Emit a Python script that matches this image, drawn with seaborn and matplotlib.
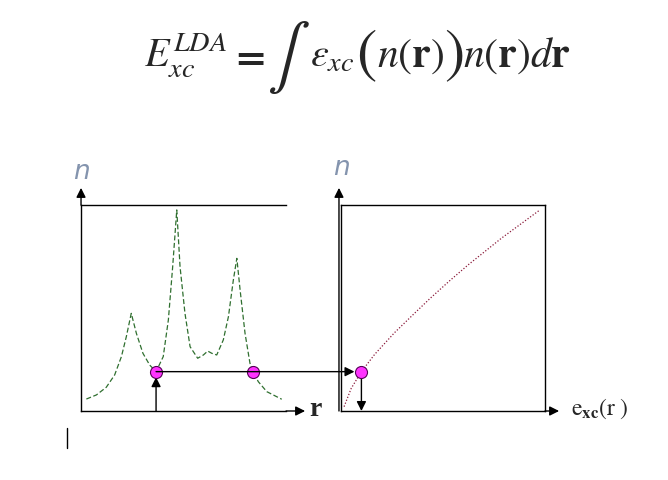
import matplotlib.pyplot as plt
import seaborn as sns
from matplotlib.lines import Line2D
from matplotlib.patches import ConnectionPatch

# density n(r) along r (left panel)
r_vals = [0.26, 0.75, 1.23, 1.64, 1.97, 2.21, 2.45, 2.70, 3.02, 3.35, 3.66, 4.01, 4.26,
          4.47, 4.67, 4.83, 5.07, 5.32, 5.69, 5.97, 6.18, 6.38, 6.62, 6.94, 7.19, 7.43,
          7.60, 7.76, 8.00, 8.24, 8.38, 8.65, 9.06, 9.79]
n_left = [0.58, 0.78, 1.15, 1.75, 2.64, 3.61, 4.74, 3.77, 2.80, 2.23, 1.91, 2.64, 4.42,
          7.00, 9.76, 7.00, 4.74, 3.12, 2.56, 2.72, 2.91, 2.80, 2.72, 3.45, 4.58, 6.36,
          7.41, 5.87, 3.77, 2.32, 1.91, 1.42, 0.94, 0.57]

# n against e_xc (right panel)
exc_vals = [0.15, 0.50, 1.00, 1.65, 2.62, 3.61, 4.35, 5.30, 6.24, 7.88, 9.75]
n_right = [0.21, 1.10, 1.91, 2.75, 3.80, 4.75, 5.45, 6.30, 7.10, 8.40, 9.76]

# picked density level and where it is met
n_level = 1.91
r_points = [3.66, 8.38]
exc_point = 1.00

sns.set_style('white')
plt.rcParams['mathtext.fontset'] = 'stix'

fig = plt.figure(figsize=(6.68, 4.8), dpi=100)
ax1 = fig.add_axes([0.1213, 0.14375, 0.3069, 0.4292])
ax2 = fig.add_axes([0.5105, 0.14375, 0.3054, 0.4292])

sns.lineplot(x=r_vals, y=n_left, ax=ax1, color='#2f6f2f', lw=0.9,
             linestyle=(0, (4, 2)), sort=False)
sns.lineplot(x=exc_vals, y=n_right, ax=ax2, color='#8b1a3a', lw=0.9,
             linestyle=(0, (1, 1.5)), sort=False)

arrow = dict(arrowstyle='-|>', color='black', lw=1.0, mutation_scale=14,
             shrinkA=0, shrinkB=0)

for ax in (ax1, ax2):
   ax.set_xlim(0, 10)
   ax.set_ylim(0, 10)
   ax.set_xticks([])
   ax.set_yticks([])
   for s in ax.spines.values():
      s.set_color('black')
      s.set_linewidth(1.0)

ax1.spines['right'].set_visible(False)
ax1.annotate('', xy=(0, 1.083), xytext=(0, 1), xycoords='axes fraction', arrowprops=arrow)
ax1.annotate('', xy=(1.093, 0), xytext=(1, 0), xycoords='axes fraction', arrowprops=arrow)
ax2.annotate('', xy=(-0.01, 1.083), xytext=(-0.01, 0), xycoords='axes fraction', arrowprops=arrow)
ax2.annotate('', xy=(1.069, 0), xytext=(1, 0), xycoords='axes fraction', arrowprops=arrow)

# vertical arrows to / from the points
ax1.annotate('', xy=(r_points[0], n_level), xytext=(r_points[0], 0),
             arrowprops=dict(arrow, shrinkB=4))
ax2.annotate('', xy=(exc_point, 0), xytext=(exc_point, n_level),
             arrowprops=dict(arrow, shrinkA=4))

# horizontal connector between panels
con = ConnectionPatch(xyA=(r_points[0], n_level), coordsA=ax1.transData,
                      xyB=(exc_point, n_level), coordsB=ax2.transData,
                      arrowstyle='-|>', color='black', lw=1.0, mutation_scale=14,
                      shrinkA=0, shrinkB=5)
fig.add_artist(con)

pt = dict(s=75, color='#ff33ff', edgecolor='#550055', linewidth=0.8, zorder=5, clip_on=False)
sns.scatterplot(x=r_points, y=[n_level] * len(r_points), ax=ax1, **pt)
sns.scatterplot(x=[exc_point], y=[n_level], ax=ax2, **pt)

# labels
ax1.text(0, 1.16, 'n', transform=ax1.transAxes, ha='center', va='center',
         fontsize=19, style='italic', color='#8494ae')
ax2.text(0, 1.18, 'n', transform=ax2.transAxes, ha='center', va='center',
         fontsize=19, style='italic', color='#8494ae')
ax1.text(1.145, 0.005, 'r', transform=ax1.transAxes, ha='center', va='center',
         fontsize=20, family='Liberation Serif', fontweight='bold')
ax2.text(1.125, 0.01, r'$\mathrm{e}_{\mathbf{xc}}(\mathrm{r}\;)$', transform=ax2.transAxes,
         ha='left', va='center', fontsize=17)

# formula, laid out piece by piece: (text, size, gap before in px, y px, va)
pieces = [
   (r'$E_{xc}^{LDA}$', 29, 0, 67, 'baseline'),
   (r'$\mathbf{=}$', 29, 3, 67, 'baseline'),
   (r'$\int$', 46, 2, 58, 'center'),
   (r'$\varepsilon_{xc}$', 29, 0, 67, 'baseline'),
   (r'$($', 44, 2, 55, 'center'),
   (r'$n(\mathbf{r})$', 30, 0, 67, 'baseline'),
   (r'$)$', 44, 0, 55, 'center'),
   (r'$n(\mathbf{r})d\mathbf{r}$', 30, 0, 67, 'baseline'),
]
renderer = fig.canvas.get_renderer()
x = 144
for s, size, gap, y, va in pieces:
   x += gap
   t = fig.text(x / 668, 1 - y / 480, s, fontsize=size, ha='left', va=va)
   x = t.get_window_extent(renderer).x1

fig.add_artist(Line2D([67 / 668, 67 / 668], [1 - 428 / 480, 1 - 448 / 480],
                      color='black', lw=1.0))

fig.savefig('out.png', dpi=100)
